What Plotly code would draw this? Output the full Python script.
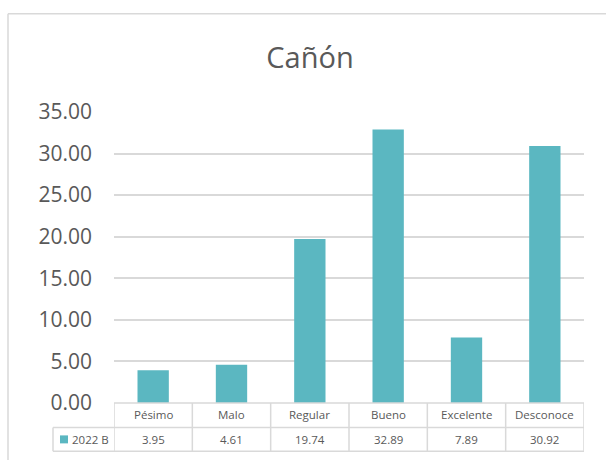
import plotly.graph_objects as go

title = "Cañón"
series_name = "2022 B"
categories = ["Pésimo", "Malo", "Regular", "Bueno", "Excelente", "Desconoce"]
values = [3.95, 4.61, 19.74, 32.89, 7.89, 30.92]
y_ticks = [0, 5, 10, 15, 20, 25, 30, 35]

BAR = "#5BB7C1"
GRID = "#D9D9D9"
TXT = "#595959"
FONT = "Open Sans"

W, H = 606, 460
L, R, T, B = 114, 22, 111.6, 56.5
pw, ph = W - L - R, H - T - B


def px_x(p):
    return (p - L) / pw


def px_y(p):
    return (H - B - p) / ph


fig = go.Figure()
fig.add_trace(go.Bar(x=categories, y=values, name=series_name,
                     marker=dict(color=BAR, line=dict(width=0)), width=0.4,
                     showlegend=False, hoverinfo="x+y"))

shapes = []
annotations = []
line = dict(color=GRID, width=1.5)

# outer chart border
shapes.append(dict(type="line", xref="paper", yref="paper", x0=px_x(8), x1=px_x(620),
                   y0=px_y(13), y1=px_y(13), line=line))
shapes.append(dict(type="line", xref="paper", yref="paper", x0=px_x(8), x1=px_x(8),
                   y0=px_y(13), y1=px_y(470), line=line))

# data table
r0, r1, r2 = px_y(H - B), px_y(428), px_y(452)
xl = px_x(53)
n = len(categories)
for i in range(n + 1):
    xv = i - 0.5
    shapes.append(dict(type="line", xref="x", yref="paper", x0=xv, x1=xv, y0=r0, y1=r2, line=line))
shapes.append(dict(type="line", xref="x", yref="paper", x0=-0.5, x1=n - 0.5, y0=r0, y1=r0, line=line))
shapes.append(dict(type="line", xref="paper", yref="paper", x0=xl, x1=0, y0=r1, y1=r1, line=line))
shapes.append(dict(type="line", xref="x", yref="paper", x0=-0.5, x1=n - 0.5, y0=r1, y1=r1, line=line))
shapes.append(dict(type="line", xref="paper", yref="paper", x0=xl, x1=0, y0=r2, y1=r2, line=line))
shapes.append(dict(type="line", xref="x", yref="paper", x0=-0.5, x1=n - 0.5, y0=r2, y1=r2, line=line))
shapes.append(dict(type="line", xref="paper", yref="paper", x0=xl, x1=xl, y0=r1, y1=r2, line=line))

# legend key
shapes.append(dict(type="rect", xref="paper", yref="paper", x0=px_x(60), x1=px_x(68),
                   y0=px_y(444), y1=px_y(436), fillcolor=BAR, line=dict(width=0)))
annotations.append(dict(text=series_name, xref="paper", yref="paper", x=px_x(70), y=px_y(440),
                        xanchor="left", yanchor="middle", showarrow=False,
                        font=dict(family=FONT, size=11.5, color=TXT)))

for c, v in zip(categories, values):
    annotations.append(dict(text=c, xref="x", yref="paper", x=c, y=px_y(415.5),
                            xanchor="center", yanchor="middle", showarrow=False,
                            font=dict(family=FONT, size=11.5, color=TXT)))
    annotations.append(dict(text=f"{v:.2f}", xref="x", yref="paper", x=c, y=px_y(440),
                            xanchor="center", yanchor="middle", showarrow=False,
                            font=dict(family=FONT, size=11.5, color=TXT)))

fig.update_layout(
    width=W, height=H,
    margin=dict(l=L, r=R, t=T, b=B, pad=0),
    paper_bgcolor="white", plot_bgcolor="white",
    title=dict(text=title, x=310 / W, xref="container", xanchor="center",
               y=1 - 58 / H, yref="container", yanchor="middle",
               font=dict(family=FONT, size=29, color=TXT)),
    xaxis=dict(showticklabels=False, showgrid=False, zeroline=False, showline=False,
               range=[-0.5, n - 0.5], fixedrange=True),
    yaxis=dict(range=[0, 35], tickvals=y_ticks, tickformat=".2f",
               showgrid=True, gridcolor=GRID, gridwidth=1.5, zeroline=False, showline=False,
               ticks="", ticklabelstandoff=21,
               tickfont=dict(family=FONT, size=21, color=TXT), fixedrange=True),
    shapes=shapes,
    annotations=annotations,
    bargap=0.6,
)

fig.write_html("out.html", config={"displayModeBar": False},
               post_script="document.body.style.margin='0';document.body.style.overflow='hidden';")
